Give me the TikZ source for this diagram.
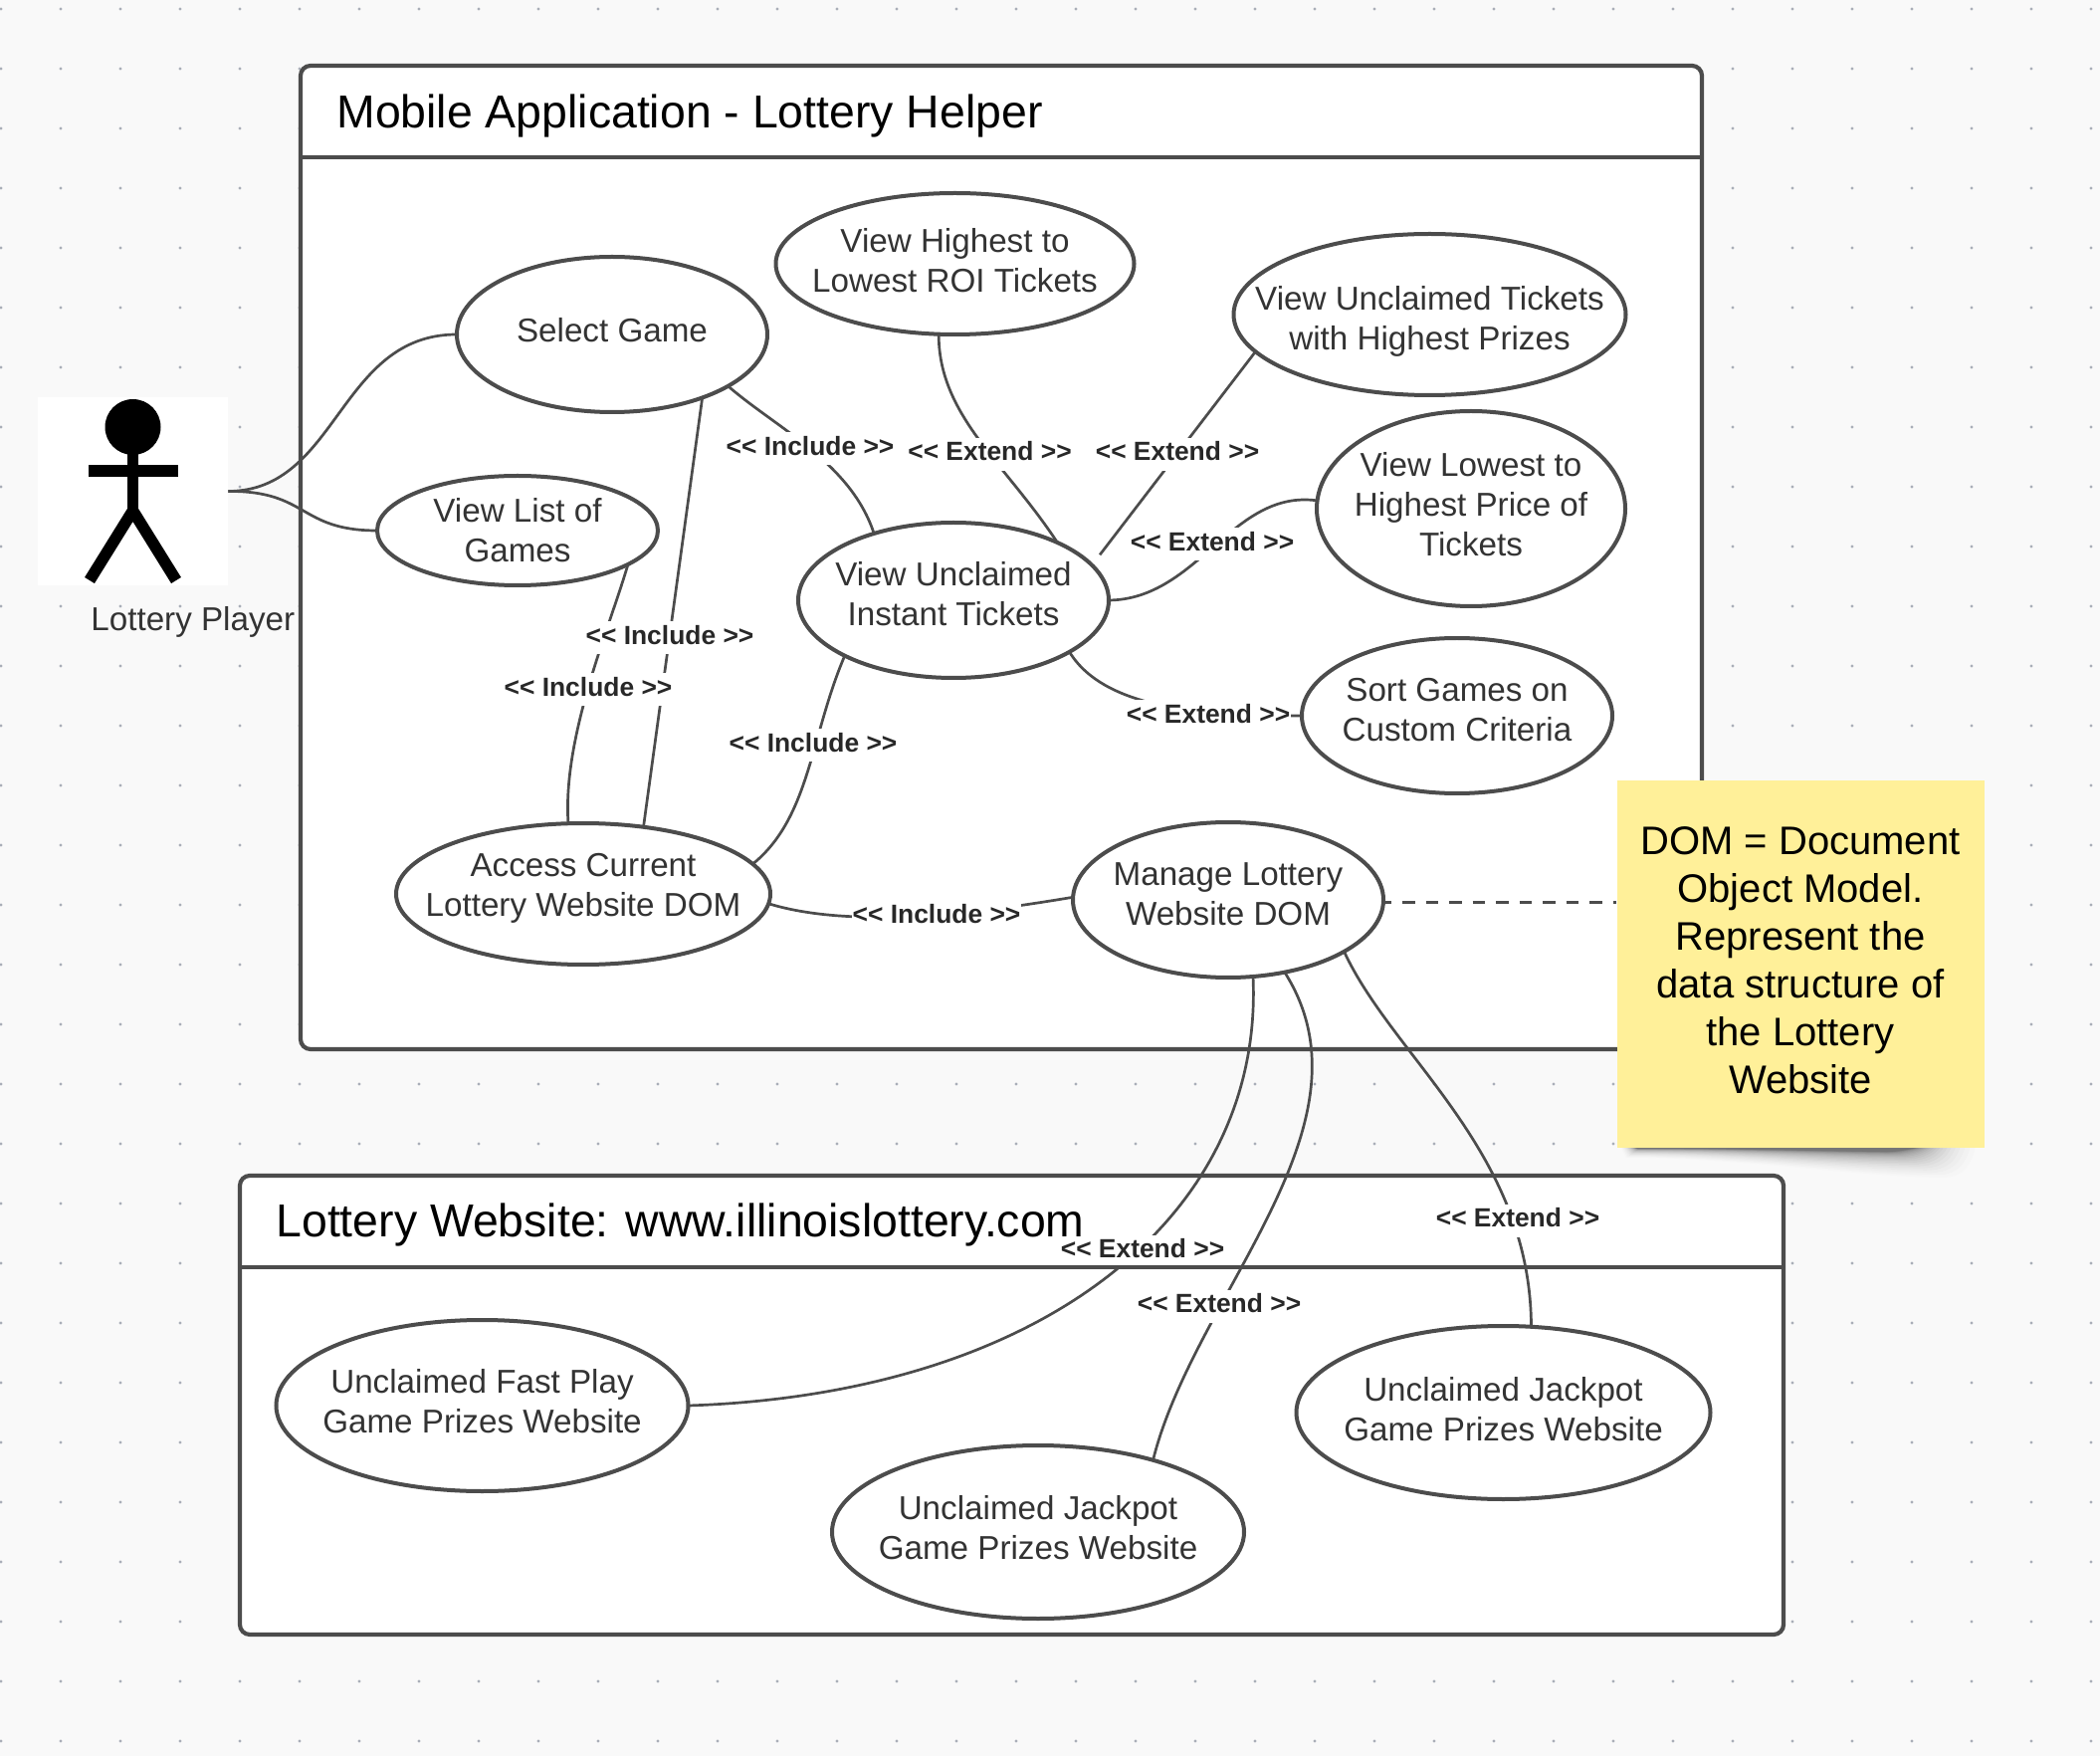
\documentclass[tikz,border=0pt]{standalone}
\usepackage{fontspec}
\setmainfont{Liberation Sans}
\usetikzlibrary{shapes.geometric}
\definecolor{bgc}{HTML}{F9F9F9}
\definecolor{dotc}{HTML}{A9AEB8}
\definecolor{linec}{HTML}{4C4C4C}
\definecolor{txtc}{HTML}{333333}
\definecolor{labc}{HTML}{282828}
\definecolor{notec}{HTML}{FFF099}
\newcommand{\ctext}[2][0]{\raisebox{\dimexpr#1pt-4.15pt\relax}[0pt][0pt]{\makebox[0pt]{\begin{tabular}{@{}c@{}}#2\end{tabular}}}}
\tikzset{
  uc/.style n args={2}{ellipse,draw=linec,line width=2pt,fill=white,inner sep=0pt,outer sep=0pt,
    minimum width=#1pt,minimum height=#2pt,text=txtc,font=\fontsize{16.6}{20}\selectfont},
  conn/.style={draw=linec,line width=1.35pt},
  lab/.style={fill=white,inner xsep=.5pt,inner ysep=0pt,text height=11.5pt,text depth=5pt,text=labc,font=\fontsize{13.2}{15}\selectfont\bfseries},
  sysbox/.style={draw=linec,line width=2.1pt,fill=white,rounded corners=5pt},
  hdr/.style={draw=linec,line width=2.1pt},
  ttl/.style={anchor=west,inner sep=0pt,text=black,font=\fontsize{23.2}{28}\selectfont},
  limb/.style={draw=black,line width=5.8pt}
}
\begin{document}
\begin{tikzpicture}[x=.5pt,y=-.5pt]
\useasboundingbox (0,0) rectangle (2110,1764);
\fill[bgc] (0,0) rectangle (2110,1764);
\foreach \i in {0,...,35}{\foreach \j in {0,...,29}{
  \fill[dotc] ({1+60*\i},{9+60*\j}) circle (.85pt);}}
% system boxes
\path[sysbox] (302,66) rectangle (1710,1054);
\draw[hdr] (302,158) -- (1710,158);
\path[sysbox] (241,1181) rectangle (1792,1642);
% actor
\node[fill=white,inner sep=0pt,minimum width=95.5pt,minimum height=94.5pt] (actor) at (133.5,493.5) {};
\fill[black] (133.5,429) circle (14pt);
\draw[limb] (133.5,445) -- (133.5,518);
\draw[limb] (89,473) -- (178.5,473);
\draw[limb] (90,583) -- (133.5,513) -- (177,583);
\node[anchor=west,inner sep=0pt,text=txtc,font=\fontsize{16.6}{20}\selectfont] (actlab) at (91,625) {Lottery Player};
% use cases
\node[uc={156}{78}] (sel) at (615,336) {\ctext{Select Game}};
\node[uc={141}{55}] (list) at (520,533) {\ctext[-2]{View List of\\Games}};
\node[uc={180}{71}] (high) at (959.5,265) {\ctext[-.2]{View Highest to\\Lowest ROI Tickets}};
\node[uc={197}{81}] (ut) at (1436.5,316) {\ctext[-4]{View Unclaimed Tickets\\with Highest Prizes}};
\node[uc={155}{98}] (low) at (1478,511) {\ctext{View Lowest to\\Highest Price of\\Tickets}};
\node[uc={156}{78}] (inst) at (958,603) {\ctext[1]{View Unclaimed\\Instant Tickets}};
\node[uc={156}{78}] (sort) at (1464,719) {\ctext[1]{Sort Games on\\Custom Criteria}};
\node[uc={188}{71}] (acc) at (586,898) {\ctext[2.7]{Access Current\\Lottery Website DOM}};
\node[uc={156}{78}] (man) at (1234,904) {\ctext[1]{Manage Lottery\\Website DOM}};
\node[uc={207}{86}] (fast) at (484.5,1412) {\ctext[.2]{Unclaimed Fast Play\\Game Prizes Website}};
\node[uc={207}{87}] (jp1) at (1043,1539) {\ctext{Unclaimed Jackpot\\Game Prizes Website}};
\node[uc={208}{87}] (jp2) at (1510.5,1419) {\ctext[-.4]{Unclaimed Jackpot\\Game Prizes Website}};
% connectors
\path[conn] (actor.east) .. controls (340,493) and (340,336) .. (sel.west);
\path[conn] (actor.east) .. controls (310,493) and (300,533) .. (list.west);
\path[conn] (sel.-24) .. controls (780,430) and (855,465) .. (inst.140);
\path[conn] (sel.-35) -- (acc.48);
\path[conn] (list.-17.5) .. controls (612,632) and (565,740) .. (acc.102);
\path[conn] (high.-103) .. controls (943,417) and (1009,464) .. (inst.29);
\path[conn] (ut.192) -- ([shift={(14,-5)}]inst.17);
\path[conn] (low.177) .. controls (1238,491) and (1204,602) .. (inst.east);
\path[conn] (inst.-24) .. controls (1110,713) and (1211,719) .. (sort.west);
\path[conn] (inst.207) .. controls (814,740) and (814,821) .. (acc.10);
\path[conn] (acc.-3) .. controls (861,935) and (996,915) .. (man.179);
\path[conn] (man.-72) .. controls (1270,1220) and (1050,1400) .. (fast.east);
\path[conn] (man.-52) .. controls (1388,1130) and (1200,1300) .. (jp1.32);
\path[conn] (man.-24) .. controls (1400,1063) and (1538,1157) .. (jp2.72);
% labels
\node[lab] (l1) at (814,451) {<{}< Include >{}>};
\node[lab] (l2) at (994.5,456.5) {<{}< Extend >{}>};
\node[lab] (l3) at (1183,456.5) {<{}< Extend >{}>};
\node[lab] (l4) at (1218,547) {<{}< Extend >{}>};
\node[lab] (l5) at (1214,720) {<{}< Extend >{}>};
\node[lab] (l6) at (673,641) {<{}< Include >{}>};
\node[lab] (l7) at (591,693) {<{}< Include >{}>};
\node[lab] (l8) at (817,749) {<{}< Include >{}>};
\node[lab] (l9) at (941,921) {<{}< Include >{}>};
\node[lab] (l10) at (1148,1257) {<{}< Extend >{}>};
\node[lab] (l11) at (1225,1312) {<{}< Extend >{}>};
\node[lab] (l12) at (1525,1226) {<{}< Extend >{}>};
% header rule of the lower box and titles stay above the label backgrounds
\draw[hdr] (241,1273) -- (1792,1273);
\node[ttl] (t1) at (338,117) {Mobile Application - Lottery Helper};
\node[ttl] (t2) at (277,1230) {Lottery Website: www.illinoislottery.com};
% note shadow
\foreach \s in {0,.05,...,1}{
  \pgfmathsetmacro{\Ff}{(1-\s)^2}
  \pgfmathsetmacro{\Op}{.012+.046*\s}
  \pgfmathsetmacro{\Lx}{1640-12*\Ff}
  \pgfmathsetmacro{\Rx}{1930+55*\Ff}
  \pgfmathsetmacro{\Dr}{1153+4+26*\Ff}
  \pgfmathsetmacro{\Dl}{1153+1+9*\Ff}
  \fill[black,opacity=\Op] (\Lx,1152) -- (\Rx,1152)
    .. controls ({\Rx-6},{\Dr-4}) and ({\Rx-20},\Dr) .. ({\Rx-35},\Dr)
    .. controls ({\Rx-120},{\Dr-1}) and ({\Lx+120},\Dl) .. ({\Lx+6},\Dl) -- cycle;}
% note
\node[fill=notec,inner sep=0pt,minimum width=184.5pt,minimum height=184.5pt,align=center,text=black,
  font=\fontsize{20}{24}\selectfont] (note) at (1809,968.5)
  {\raisebox{2pt}{\begin{tabular}{@{}c@{}}DOM = Document\\Object Model.\\Represent the\\data structure of\\the Lottery\\Website\end{tabular}}};
\path[conn,line width=1.5pt,dash pattern=on 6.35pt off 5.4pt,dash phase=2.25pt] ([yshift=-1pt]man.east) -- ([yshift=-1pt]man.east -| note.west);
\end{tikzpicture}
\end{document}
